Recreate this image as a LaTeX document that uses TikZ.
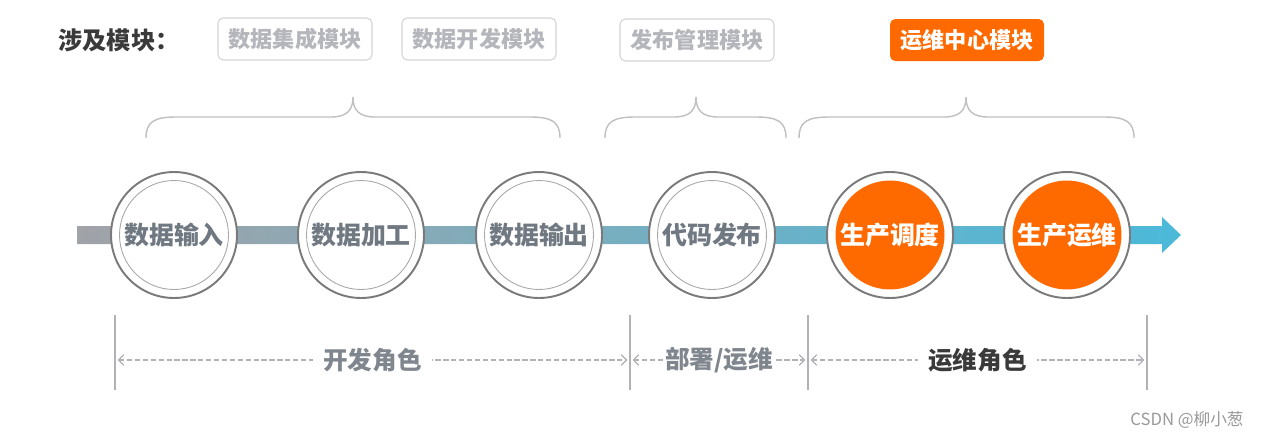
\documentclass[tikz,border=0pt]{standalone}
\usepackage{fontspec}
\setmainfont{Noto Sans CJK SC}
\usepackage{xcolor}
\usepackage{tikz}
\usetikzlibrary{positioning,arrows.meta}

\definecolor{hotorange}{HTML}{FF6A00}
\definecolor{darktext}{HTML}{3A3A3A}
\definecolor{stagetext}{HTML}{707882}
\definecolor{boxtext}{HTML}{B4B6BC}
\definecolor{boxline}{HTML}{D4D4D8}
\definecolor{ringgray}{HTML}{7A7A7A}
\definecolor{innergray}{HTML}{A8A8A8}
\definecolor{bracegray}{HTML}{C0C0C0}
\definecolor{rolegray}{HTML}{80868E}
\definecolor{linegray}{HTML}{B0B2B8}
\definecolor{barleft}{HTML}{A0A3A8}
\definecolor{barmid}{HTML}{7EABB9}
\definecolor{barright}{HTML}{4CB9D9}

\begin{document}
\begin{tikzpicture}[x=0.02cm,y=-0.02cm,
    module/.style={draw=boxline, line width=0.6pt, rounded corners=3pt, fill=white,
        minimum width=3.08cm, minimum height=0.84cm, inner sep=0pt,
        text=boxtext, font=\bfseries\fontsize{12.6}{14}\selectfont},
    hotmodule/.style={module, draw=none, fill=hotorange, text=white},
    stage/.style={circle, draw=ringgray, line width=1.1pt, fill=white,
        minimum size=2.52cm, inner sep=0pt,
        text=stagetext, font=\bfseries\fontsize{14.2}{16}\selectfont,
        path picture={\draw[innergray, line width=0.5pt]
            (path picture bounding box.center) circle (1.09cm);}},
    hotstage/.style={stage, text=white,
        path picture={\fill[hotorange]
            (path picture bounding box.center) circle (1.09cm);}},
    flowbar/.style={left color=barleft, middle color=barmid, right color=barright},
    modbrace/.style={draw=bracegray, line width=0.8pt},
    divider/.style={draw=linegray, line width=1.3pt},
    rolearrow/.style={draw=linegray, line width=0.7pt, dash pattern=on 3pt off 1.5pt,
        {Straight Barb[length=3pt,width=6pt]}-{Straight Barb[length=3pt,width=6pt]}},
    rolelabel/.style={fill=white, inner xsep=6pt, text=rolegray,
        font=\bfseries\fontsize{14}{16}\selectfont}]

    % Canvas
    \fill[white] (0,0) rectangle (1263,440);
    \useasboundingbox (0,0) rectangle (1263,440);

    % Modules involved
    \node[text=darktext, font=\bfseries\fontsize{13.8}{15}\selectfont] (title) at (119,40) {涉及模块：};
    \node[module] (m1) at (295,39) {数据集成模块};
    \node[module] (m2) at (479,39) {数据开发模块};
    \node[module] (m3) at (697,40) {发布管理模块};
    \node[hotmodule] (m4) at (967,40) {运维中心模块};

    % Braces under the modules
    \foreach \a/\b/\c in {146/353/560, 605/696/786, 799/966/1134}
        \draw[modbrace] (\a,138) .. controls (\a,122) and (\a+8,117) .. (\a+30,117)
            -- (\b-22,117) .. controls (\b-6,117) and (\b,110) .. (\b,97)
            .. controls (\b,110) and (\b+6,117) .. (\b+22,117)
            -- (\c-30,117) .. controls (\c-8,117) and (\c,122) .. (\c,138);

    % Flow arrow
    \coordinate (barstart) at (77,235);
    \coordinate (bartip) at (1181,235);
    \shade[flowbar] (77,226) -- (1162,226) -- (1162,217) -- (bartip) -- (1162,253)
        -- (1162,244) -- (77,244) -- cycle;

    % Stages
    \node[stage] (st1) at (174,235) {数据输入};
    \node[stage] (st2) at (361,235) {数据加工};
    \node[stage] (st3) at (539,235) {数据输出};
    \node[stage] (st4) at (712,235) {代码发布};
    \node[hotstage] (st5) at (890,235) {生产调度};
    \node[hotstage] (st6) at (1067,235) {生产运维};

    % Role ranges
    \foreach \x [count=\i] in {115,630,808,1147} {
        \draw[divider] (\x,315) -- (\x,390);
        \coordinate (d\i) at (\x,360);
    }
    \draw[rolearrow, shorten <=1.5pt, shorten >=1.5pt] (d1) -- node[rolelabel] (r1) {开发角色} (d2);
    \draw[rolearrow, shorten <=1.5pt, shorten >=1.5pt] (d2) -- node[rolelabel, inner xsep=1pt] (r2) {部署/运维} (d3);
    \draw[rolearrow, shorten <=1.5pt, shorten >=1.5pt] (d3) -- node[rolelabel, text=darktext] (r3) {运维角色} (d4);

    % Watermark
    \node[text=gray!80, font=\fontsize{9.5}{11}\selectfont] (mark) at (1187,420) {CSDN @柳小葱};
\end{tikzpicture}
\end{document}
